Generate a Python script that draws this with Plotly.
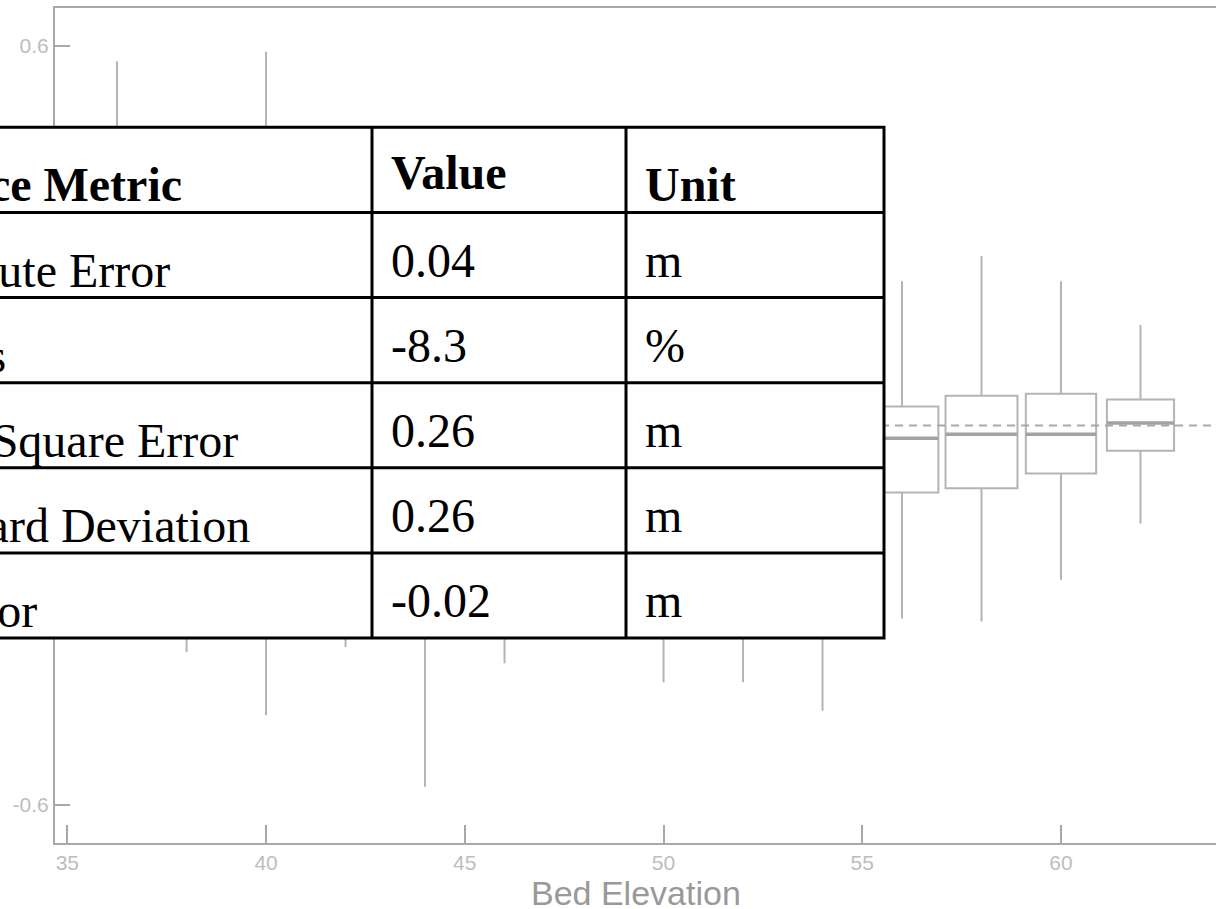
import plotly.graph_objects as go

# ---- box statistics of the elevation error, binned by bed elevation ----
bin_centers = [36.25, 38, 40, 42, 44, 46, 48, 50, 52, 54, 56, 58, 60, 62]
box_widths  = [1.5, 1.8, 1.8, 1.8, 1.8, 1.8, 1.8, 1.8, 1.8, 1.8, 1.83, 1.81, 1.77, 1.69]
upper_fence = [0.576, 0.40, 0.591, 0.38, 0.44, 0.35, 0.32, 0.36, 0.36, 0.38, 0.228, 0.268, 0.228, 0.159]
q3_values   = [0.10, 0.10, 0.12, 0.10, 0.12, 0.09, 0.08, 0.08, 0.08, 0.09, 0.030, 0.047, 0.050, 0.041]
medians     = [-0.03, -0.02, -0.01, 0.0, -0.02, -0.01, 0.0, -0.02, -0.02, -0.02, -0.020, -0.014, -0.014, 0.004]
q1_values   = [-0.12, -0.13, -0.14, -0.10, -0.15, -0.11, -0.09, -0.12, -0.12, -0.13, -0.106, -0.099, -0.076, -0.040]
lower_fence = [-0.30, -0.358, -0.458, -0.350, -0.571, -0.376, -0.30, -0.406, -0.406, -0.451, -0.305, -0.310, -0.244, -0.155]

x_ticks = [35, 40, 45, 50, 55, 60, 65]
y_ticks = [-0.6, 0.6]
y_tick_labels = ["-0.6", "0.6"]
x_title = "Bed Elevation"

# ---- summary statistics table ----
table_header = ["Performance Metric", "Value", "Unit"]
metric_names = ["Mean Absolute Error", "Percent Bias", "Root Mean Square Error",
                "Error Standard Deviation", "Average Error"]
metric_values = ["0.04", "-8.3", "0.26", "0.26", "-0.02"]
metric_units = ["m", "%", "m", "m", "m"]

W, H = 1216, 909
ML, MR, MT, MB = 55, 0, 8, 66
PW, PH = W - ML - MR, H - MT - MB


def px(xp):
    return (xp - ML) / PW


def py(yp):
    return (H - MB - yp) / PH


BOX_GRAY = "#b4b4b4"
MED_GRAY = "#a2a2a2"
AXIS_GRAY = "#a8a8a8"

fig = go.Figure()

for i, xc in enumerate(bin_centers):
    fig.add_trace(go.Box(
        x=[xc], q1=[q1_values[i]], median=[medians[i]], q3=[q3_values[i]],
        lowerfence=[lower_fence[i]], upperfence=[upper_fence[i]],
        width=box_widths[i], whiskerwidth=0, boxpoints=False,
        fillcolor="rgba(0,0,0,0)", line=dict(color=BOX_GRAY, width=2),
        showlegend=False, hoverinfo="skip",
    ))
    half = box_widths[i] / 2
    fig.add_trace(go.Scatter(
        x=[xc - half, xc + half], y=[medians[i], medians[i]], mode="lines",
        line=dict(color=MED_GRAY, width=3.5), showlegend=False, hoverinfo="skip",
    ))

shapes = [
    # zero reference line
    dict(type="line", xref="paper", yref="y", x0=0, x1=1, y0=0, y1=0,
         line=dict(color="#a8a8a8", width=2, dash="8px,6px"), layer="above"),
]

# table geometry (pixels)
t_left, t_right = -260, 884
col_lines = [372, 626]
t_top, t_bottom = 127.3, 638
n_rows = 1 + len(metric_names)
row_h = (t_bottom - t_top) / n_rows
row_edges = [t_top + k * row_h for k in range(n_rows + 1)]

shapes.append(dict(type="rect", xref="paper", yref="paper",
                   x0=px(t_left), x1=px(t_right), y0=py(t_bottom), y1=py(t_top),
                   fillcolor="white", line=dict(color="black", width=3), layer="above"))
for ry in row_edges[1:-1]:
    shapes.append(dict(type="line", xref="paper", yref="paper",
                       x0=px(t_left), x1=px(t_right), y0=py(ry), y1=py(ry),
                       line=dict(color="black", width=3), layer="above"))
for cx in col_lines:
    shapes.append(dict(type="line", xref="paper", yref="paper",
                       x0=px(cx), x1=px(cx), y0=py(t_bottom), y1=py(t_top),
                       line=dict(color="black", width=3), layer="above"))

SERIF = "Liberation Serif, Times New Roman, serif"
FS = 48
annotations = []
text_x = [-237, 389, 643]
# baseline offset above each row's bottom edge, per column
header_base = [12, 24, 12]
body_base = [12, 22, 22]
DESC = 13  # descender space below the baseline inside the text box

rows = [table_header] + [[metric_names[k], metric_values[k], metric_units[k]]
                         for k in range(len(metric_names))]
for r, row in enumerate(rows):
    bottom = row_edges[r + 1]
    for c, txt in enumerate(row):
        base = bottom - (header_base[c] if r == 0 else body_base[c])
        label = f"<b>{txt}</b>" if r == 0 else txt
        annotations.append(dict(
            text=label, xref="paper", yref="paper", x=px(text_x[c]), y=py(base + DESC),
            xanchor="left", yanchor="bottom", showarrow=False,
            font=dict(family=SERIF, size=FS, color="black"),
        ))

# x-axis title, placed just under the tick labels
annotations.append(dict(
    text=x_title, xref="paper", yref="paper", x=0.5, y=py(872),
    xanchor="center", yanchor="top", showarrow=False,
    font=dict(family="Liberation Sans, Arial", size=34, color="#999999"),
))

fig.update_layout(
    width=W, height=H,
    margin=dict(l=ML, r=MR, t=MT, b=MB, pad=0),
    paper_bgcolor="white", plot_bgcolor="white",
    shapes=shapes, annotations=annotations,
    showlegend=False,
    xaxis=dict(
        range=[34.69, 63.9], tickvals=x_ticks, ticks="inside", ticklen=18,
        tickwidth=2, tickcolor=AXIS_GRAY, showline=True, linecolor=AXIS_GRAY,
        linewidth=2, mirror=True, showgrid=False, zeroline=False, automargin=False,
        tickfont=dict(family="Liberation Sans, Arial", size=21, color="#bdbdbd"),
    ),
    yaxis=dict(
        range=[-0.66, 0.66], tickvals=y_ticks, ticktext=y_tick_labels,
        ticks="inside", ticklen=15, tickwidth=2, tickcolor=AXIS_GRAY,
        showline=True, linecolor=AXIS_GRAY, linewidth=2, showgrid=False,
        zeroline=False, automargin=False,
        tickfont=dict(family="Liberation Sans, Arial", size=21, color="#bdbdbd"),
    ),
)

fig.write_html("out.html")
